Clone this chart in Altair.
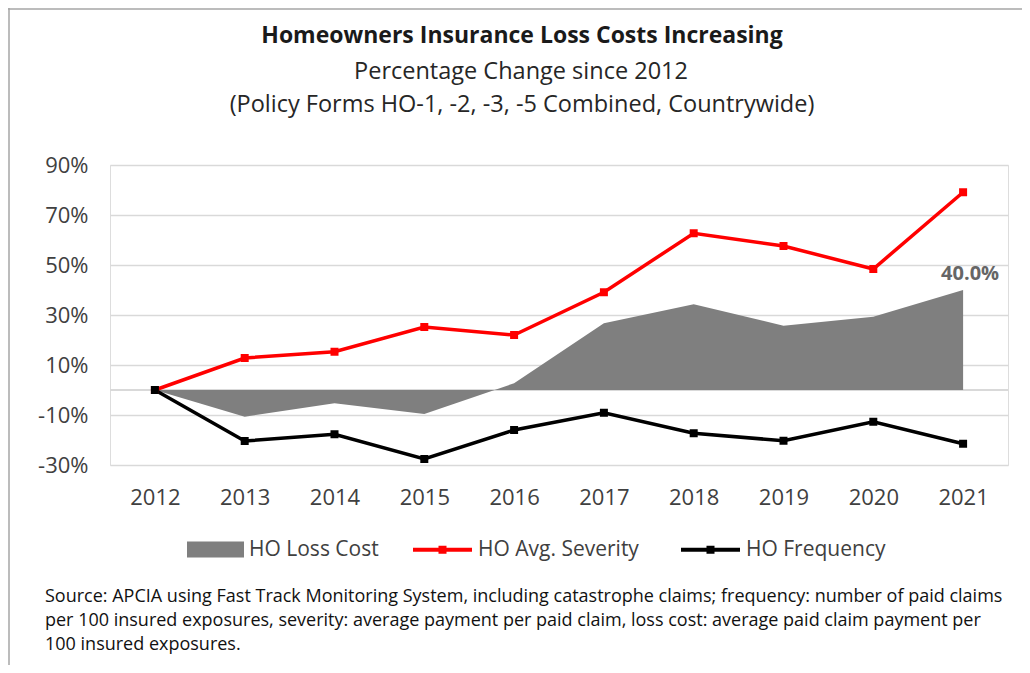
import altair as alt
import pandas as pd

years = [2012, 2013, 2014, 2015, 2016, 2017, 2018, 2019, 2020, 2021]
loss_cost = [0.0, -10.7, -5.3, -9.6, 2.7, 26.7, 34.3, 25.7, 29.3, 40.0]
avg_severity = [0.0, 12.8, 15.3, 25.2, 22.0, 39.1, 62.7, 57.6, 48.4, 79.1]
frequency = [0.0, -20.4, -17.7, -27.6, -16.0, -9.1, -17.3, -20.3, -12.7, -21.5]

series_names = ["HO Loss Cost", "HO Avg. Severity", "HO Frequency"]
y_ticks = [-30, -10, 10, 30, 50, 70, 90]

title_text = "Homeowners Insurance Loss Costs Increasing"
subtitle_lines = ["Percentage Change since 2012",
                  "(Policy Forms HO-1, -2, -3, -5 Combined, Countrywide)"]
source_lines = [
    "Source: APCIA using Fast Track Monitoring System, including catastrophe claims; frequency: number of paid claims",
    "per 100 insured exposures, severity: average payment per paid claim, loss cost: average paid claim payment per",
    "100 insured exposures.",
]

FONT = "Open Sans"

loss_df = pd.DataFrame({"year": years, "value": loss_cost, "series": series_names[0]})
lines_df = pd.concat([
    pd.DataFrame({"year": years, "value": avg_severity, "series": series_names[1]}),
    pd.DataFrame({"year": years, "value": frequency, "series": series_names[2]}),
])
one = pd.DataFrame({"k": [0]})

x_enc = alt.X("year:Q",
              scale=alt.Scale(domain=[2011.5, 2021.5], nice=False, zero=False),
              axis=alt.Axis(values=years, format="d", title=None, grid=False, domain=False,
                            ticks=False, labelFontSize=22, labelColor="#404040",
                            labelPadding=22, labelFont=FONT))
y_scale = alt.Scale(domain=[-30, 90], nice=False)
y_axis = alt.Axis(values=y_ticks, labelExpr="datum.value + '%'", title=None,
                  grid=True, gridColor="#d9d9d9", gridWidth=1.5, domain=False, ticks=False,
                  labelFontSize=22, labelColor="#404040", labelPadding=22, labelFont=FONT)

fill_legend = alt.Legend(
    title=None, orient="none", legendX=77, legendY=356,
    symbolType="M-1,-0.28L1,-0.28L1,0.28L-1,0.28Z", symbolSize=3249,
    symbolStrokeWidth=0, labelFontSize=21, labelColor="#404040", labelFont=FONT,
    labelOffset=5, labelLimit=400)

line_legend = alt.Legend(
    title=None, orient="none", legendX=301, legendY=353, direction="horizontal",
    symbolType="M-1,0L1,0M-0.068,-0.068L0.068,-0.068L0.068,0.068L-0.068,0.068Z",
    symbolSize=3481, symbolStrokeWidth=4, labelFontSize=21, labelColor="#404040",
    labelFont=FONT, labelOffset=4, columnPadding=34, labelLimit=400)

color_scale = alt.Scale(domain=series_names[1:], range=["#ff0000", "#000000"])

area = alt.Chart(loss_df).mark_area(color="#7f7f7f", opacity=1).encode(
    x=x_enc,
    y=alt.Y("value:Q", scale=y_scale, axis=y_axis),
    fill=alt.Fill("series:N", scale=alt.Scale(domain=[series_names[0]], range=["#7f7f7f"]),
                  legend=fill_legend),
)

zero_rule = alt.Chart(loss_df).mark_rule(color="#d9d9d9", strokeWidth=1.5).encode(
    y=alt.datum(0, scale=y_scale)
)

lines = alt.Chart(lines_df).mark_line(strokeWidth=3.5).encode(
    x=x_enc,
    y=alt.Y("value:Q", scale=y_scale),
    color=alt.Color("series:N", scale=color_scale, legend=line_legend),
)

points = alt.Chart(lines_df).mark_point(shape="square", filled=True, size=64, opacity=1).encode(
    x=x_enc,
    y=alt.Y("value:Q", scale=y_scale),
    color=alt.Color("series:N", scale=color_scale, legend=line_legend),
)

end_label = alt.Chart(loss_df).transform_filter(
    alt.datum.year == years[-1]
).transform_calculate(
    label="format(datum.value, '.1f') + '%'"
).mark_text(fontSize=20, fontWeight="bold", color="#666666", font=FONT,
            align="center", baseline="bottom", dx=7, dy=-6).encode(
    x=x_enc,
    y=alt.Y("value:Q", scale=y_scale),
    text="label:N",
)

title_mark = alt.Chart(one).mark_text(
    text=title_text, align="center", baseline="middle", fontSize=23, fontWeight="bold",
    font=FONT, color="#1a1a1a"
).encode(x=alt.value(412), y=alt.value(-129))

subtitle1 = alt.Chart(one).mark_text(
    text=subtitle_lines[0], align="center", baseline="middle", fontSize=23.5,
    font=FONT, color="#262626"
).encode(x=alt.value(411), y=alt.value(-93))

subtitle2 = alt.Chart(one).mark_text(
    text=subtitle_lines[1], align="center", baseline="middle", fontSize=23.5,
    font=FONT, color="#262626"
).encode(x=alt.value(412), y=alt.value(-60))

source = alt.Chart(one).mark_text(
    text=source_lines, align="left", baseline="middle", fontSize=18, lineHeight=24,
    font=FONT, color="#111111"
).encode(x=alt.value(-65), y=alt.value(432))

top_border = alt.Chart(one).mark_rule(color="#a6a6a6", strokeWidth=1.5).encode(
    x=alt.value(-102), x2=alt.value(912), y=alt.value(-156))
left_border = alt.Chart(one).mark_rule(color="#a6a6a6", strokeWidth=1.5).encode(
    x=alt.value(-101), y=alt.value(-157), y2=alt.value(500))

chart = alt.layer(
    zero_rule, area, lines, points, end_label, title_mark, subtitle1, subtitle2,
    source, top_border, left_border
).properties(
    width=898, height=300,
    autosize=alt.AutoSizeParams(type="none"),
    padding={"left": 102, "top": 157, "right": 14, "bottom": 200},
).configure_view(stroke=None).configure(background="white")

chart.save("out.html", embed_options={"renderer": "svg", "actions": False})
